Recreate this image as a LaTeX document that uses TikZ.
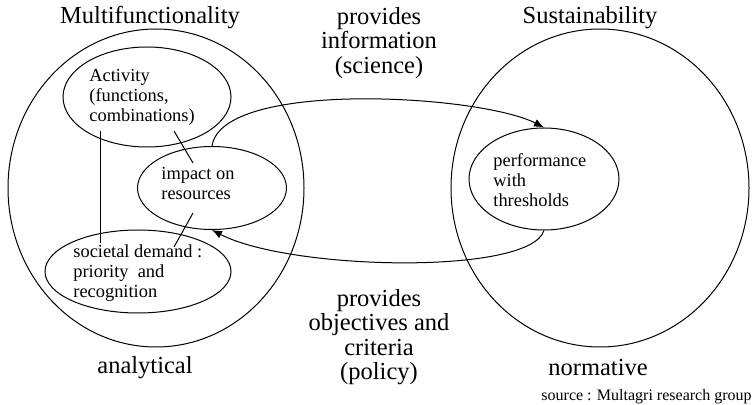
\documentclass[tikz,border=0pt]{standalone}
\usepackage{fontspec}
\setmainfont{LiberationSerif}[Extension=.ttf, UprightFont=*-Regular, BoldFont=*-Bold]
\usetikzlibrary{shapes.geometric,arrows.meta}
\begin{document}
\begin{tikzpicture}[x=0.5pt,y=-0.5pt,
	ring/.style={draw=black, ellipse, line width=0.5pt},
	bigtxt/.style={font=\fontsize{12.25}{12.25}\selectfont, align=center},
	smalltxt/.style={font=\fontsize{9.2}{10}\selectfont, align=left, anchor=west},
	flow/.style={draw=black, line width=0.5pt, -{Latex[length=5pt,width=4pt]}}]
					\tikzstyle{every node}+=[inner sep=0pt]
					\useasboundingbox (0,0) rectangle (755,405);
					\node [ring, minimum width=148pt, minimum height=159pt] (multi) at (156,188) {};
					\node [ring, minimum width=149pt, minimum height=159pt] (sust) at (600,188) {};
					\node [ring, minimum width=84pt, minimum height=50pt] (act) at (147,97) {};
					\node [ring, minimum width=74.5pt, minimum height=41.5pt] (impact) at (212,188) {};
					\node [ring, minimum width=93pt, minimum height=41.5pt] (soc) at (138,271.5) {};
					\node [ring, minimum width=75pt, minimum height=51pt] (perf) at (544,179) {};
					\node [bigtxt] (multilabel) at (150,18) {Multifunctionality};
					\node [bigtxt] (sustlabel) at (590,18) {Sustainability};
					\node [bigtxt] (anlabel) at (145,368) {analytical};
					\node [bigtxt] (normlabel) at (598,368) {normative};
					\node [bigtxt] (science) at (379,43) {provides\\information\\(science)};
					\node [bigtxt] (policy) at (379,337) {provides\\objectives and\\criteria\\(policy)};
					\node [font=\fontsize{8}{8}\selectfont, anchor=east] (source) at (752,397) {source : Multagri research group};
					\node [smalltxt] (acttxt) at (89,97) {Activity\\(functions,\\combinations)};
					\node [smalltxt] (impacttxt) at (161,184) {impact on\\resources};
					\node [smalltxt] (soctxt) at (73,273) {societal demand :\\priority \ and\\recognition};
					\node [smalltxt] (perftxt) at (493,180) {performance\\with\\thresholds};
					\draw [black, line width=0.5pt] ([shift={(27,34)}]act.center) -- ([shift={(-19,-25)}]impact.center);
					\draw [black, line width=0.5pt] ([shift={(-19,25)}]impact.center) -- ([shift={(36,-24.5)}]soc.center);
					\draw [black, line width=0.5pt] ([shift={(-47,34)}]act.center) -- ([shift={(-38,-28.5)}]soc.center);
					\draw [flow] (impact.north) .. controls +(10,-66.5) and +(-64,-33) .. (perf.north);
					\draw [flow] (perf.south) .. controls +(-14,45) and +(78,40.5) .. (impact.south);
\end{tikzpicture}
\end{document}
